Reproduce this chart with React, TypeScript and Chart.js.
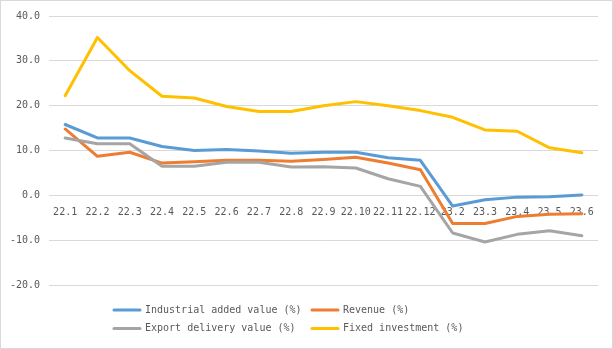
import React, { useEffect, useRef } from "react";
import { Chart, registerables } from "chart.js";

Chart.register(...registerables);

const categories = ["22.1", "22.2", "22.3", "22.4", "22.5", "22.6", "22.7", "22.8", "22.9", "22.10", "22.11", "22.12", "23.2", "23.3", "23.4", "23.5", "23.6"];
const industrialAddedValue = [15.8, 12.8, 12.8, 10.9, 10.0, 10.2, 9.9, 9.4, 9.6, 9.6, 8.4, 7.8, -2.4, -1.0, -0.4, -0.3, 0.1];
const revenue = [14.8, 8.7, 9.6, 7.2, 7.5, 7.8, 7.8, 7.6, 8.0, 8.5, 7.2, 5.7, -6.3, -6.3, -4.7, -4.2, -4.1];
const exportDeliveryValue = [12.8, 11.5, 11.5, 6.5, 6.5, 7.4, 7.4, 6.3, 6.4, 6.1, 3.7, 2.0, -8.4, -10.4, -8.7, -7.9, -9.0];
const fixedInvestment = [22.2, 35.2, 27.8, 22.1, 21.7, 19.8, 18.7, 18.7, 20.0, 20.9, 20.0, 18.9, 17.4, 14.6, 14.3, 10.6, 9.5];
const seriesNames = ["Industrial added value (%)", "Revenue (%)", "Export delivery value (%)", "Fixed investment (%)"];
const seriesColors = ["#5B9BD5", "#ED7D31", "#A5A5A5", "#FFC000"];
const yMin = -20;
const yMax = 40;
const yStep = 10;

const FONT = "'DejaVu Sans Mono', monospace";
const TEXT = "#595959";

const gridLegend = {
  id: "gridLegend",
  afterDraw(chart: any) {
    const ctx = chart.ctx;
    const colX = [112, 310];
    const rowY = [309, 327.5];
    ctx.save();
    ctx.font = `10px ${FONT}`;
    ctx.textBaseline = "middle";
    ctx.textAlign = "left";
    chart.data.datasets.forEach((ds: any, i: number) => {
      const x = colX[i % 2];
      const y = rowY[Math.floor(i / 2)];
      ctx.strokeStyle = ds.borderColor;
      ctx.lineWidth = 3;
      ctx.lineCap = "round";
      ctx.beginPath();
      ctx.moveTo(x + 1, y);
      ctx.lineTo(x + 27, y);
      ctx.stroke();
      ctx.fillStyle = TEXT;
      ctx.fillText(ds.label, x + 32, y);
    });
    ctx.restore();
  },
};

export default function App() {
  const ref = useRef<HTMLCanvasElement | null>(null);
  useEffect(() => {
    document.body.style.margin = "0";
    const series = [industrialAddedValue, revenue, exportDeliveryValue, fixedInvestment];
    const chart = new Chart(ref.current as HTMLCanvasElement, {
      type: "line",
      data: {
        labels: categories,
        datasets: series.map((d, i) => ({
          label: seriesNames[i],
          data: d,
          borderColor: seriesColors[i],
          backgroundColor: seriesColors[i],
          borderWidth: 3,
          pointRadius: 0,
          tension: 0,
          borderCapStyle: "round",
          borderJoinStyle: "round",
          order: 3 - i,
        })),
      },
      options: {
        animation: false,
        responsive: false,
        events: [],
        layout: { padding: { left: 0, top: 14, right: 14, bottom: 63 } },
        plugins: { legend: { display: false }, tooltip: { enabled: false } },
        scales: {
          x: {
            type: "category",
            offset: true,
            position: { y: 0 } as any,
            grid: { display: false, drawTicks: false },
            border: { display: false },
            ticks: {
              autoSkip: false,
              maxRotation: 0,
              minRotation: 0,
              padding: 11,
              color: TEXT,
              font: { family: FONT, size: 10 },
            },
          },
          y: {
            min: yMin,
            max: yMax,
            grid: { color: "#D9D9D9", lineWidth: 1, drawTicks: false },
            border: { display: false },
            ticks: {
              stepSize: yStep,
              padding: 9,
              color: TEXT,
              font: { family: FONT, size: 10 },
              callback: (v: any) => Number(v).toFixed(1),
            },
            afterFit: (scale: any) => {
              scale.width = 48;
            },
          },
        },
      },
      plugins: [gridLegend],
    });
    return () => chart.destroy();
  }, []);
  return (
    <div
      style={{
        position: "absolute",
        left: 0,
        top: 0,
        width: 613,
        height: 349,
        boxSizing: "border-box",
        border: "1px solid #D9D9D9",
        background: "#fff",
      }}
    >
      <canvas ref={ref} width={611} height={347} style={{ display: "block" }} />
    </div>
  );
}
